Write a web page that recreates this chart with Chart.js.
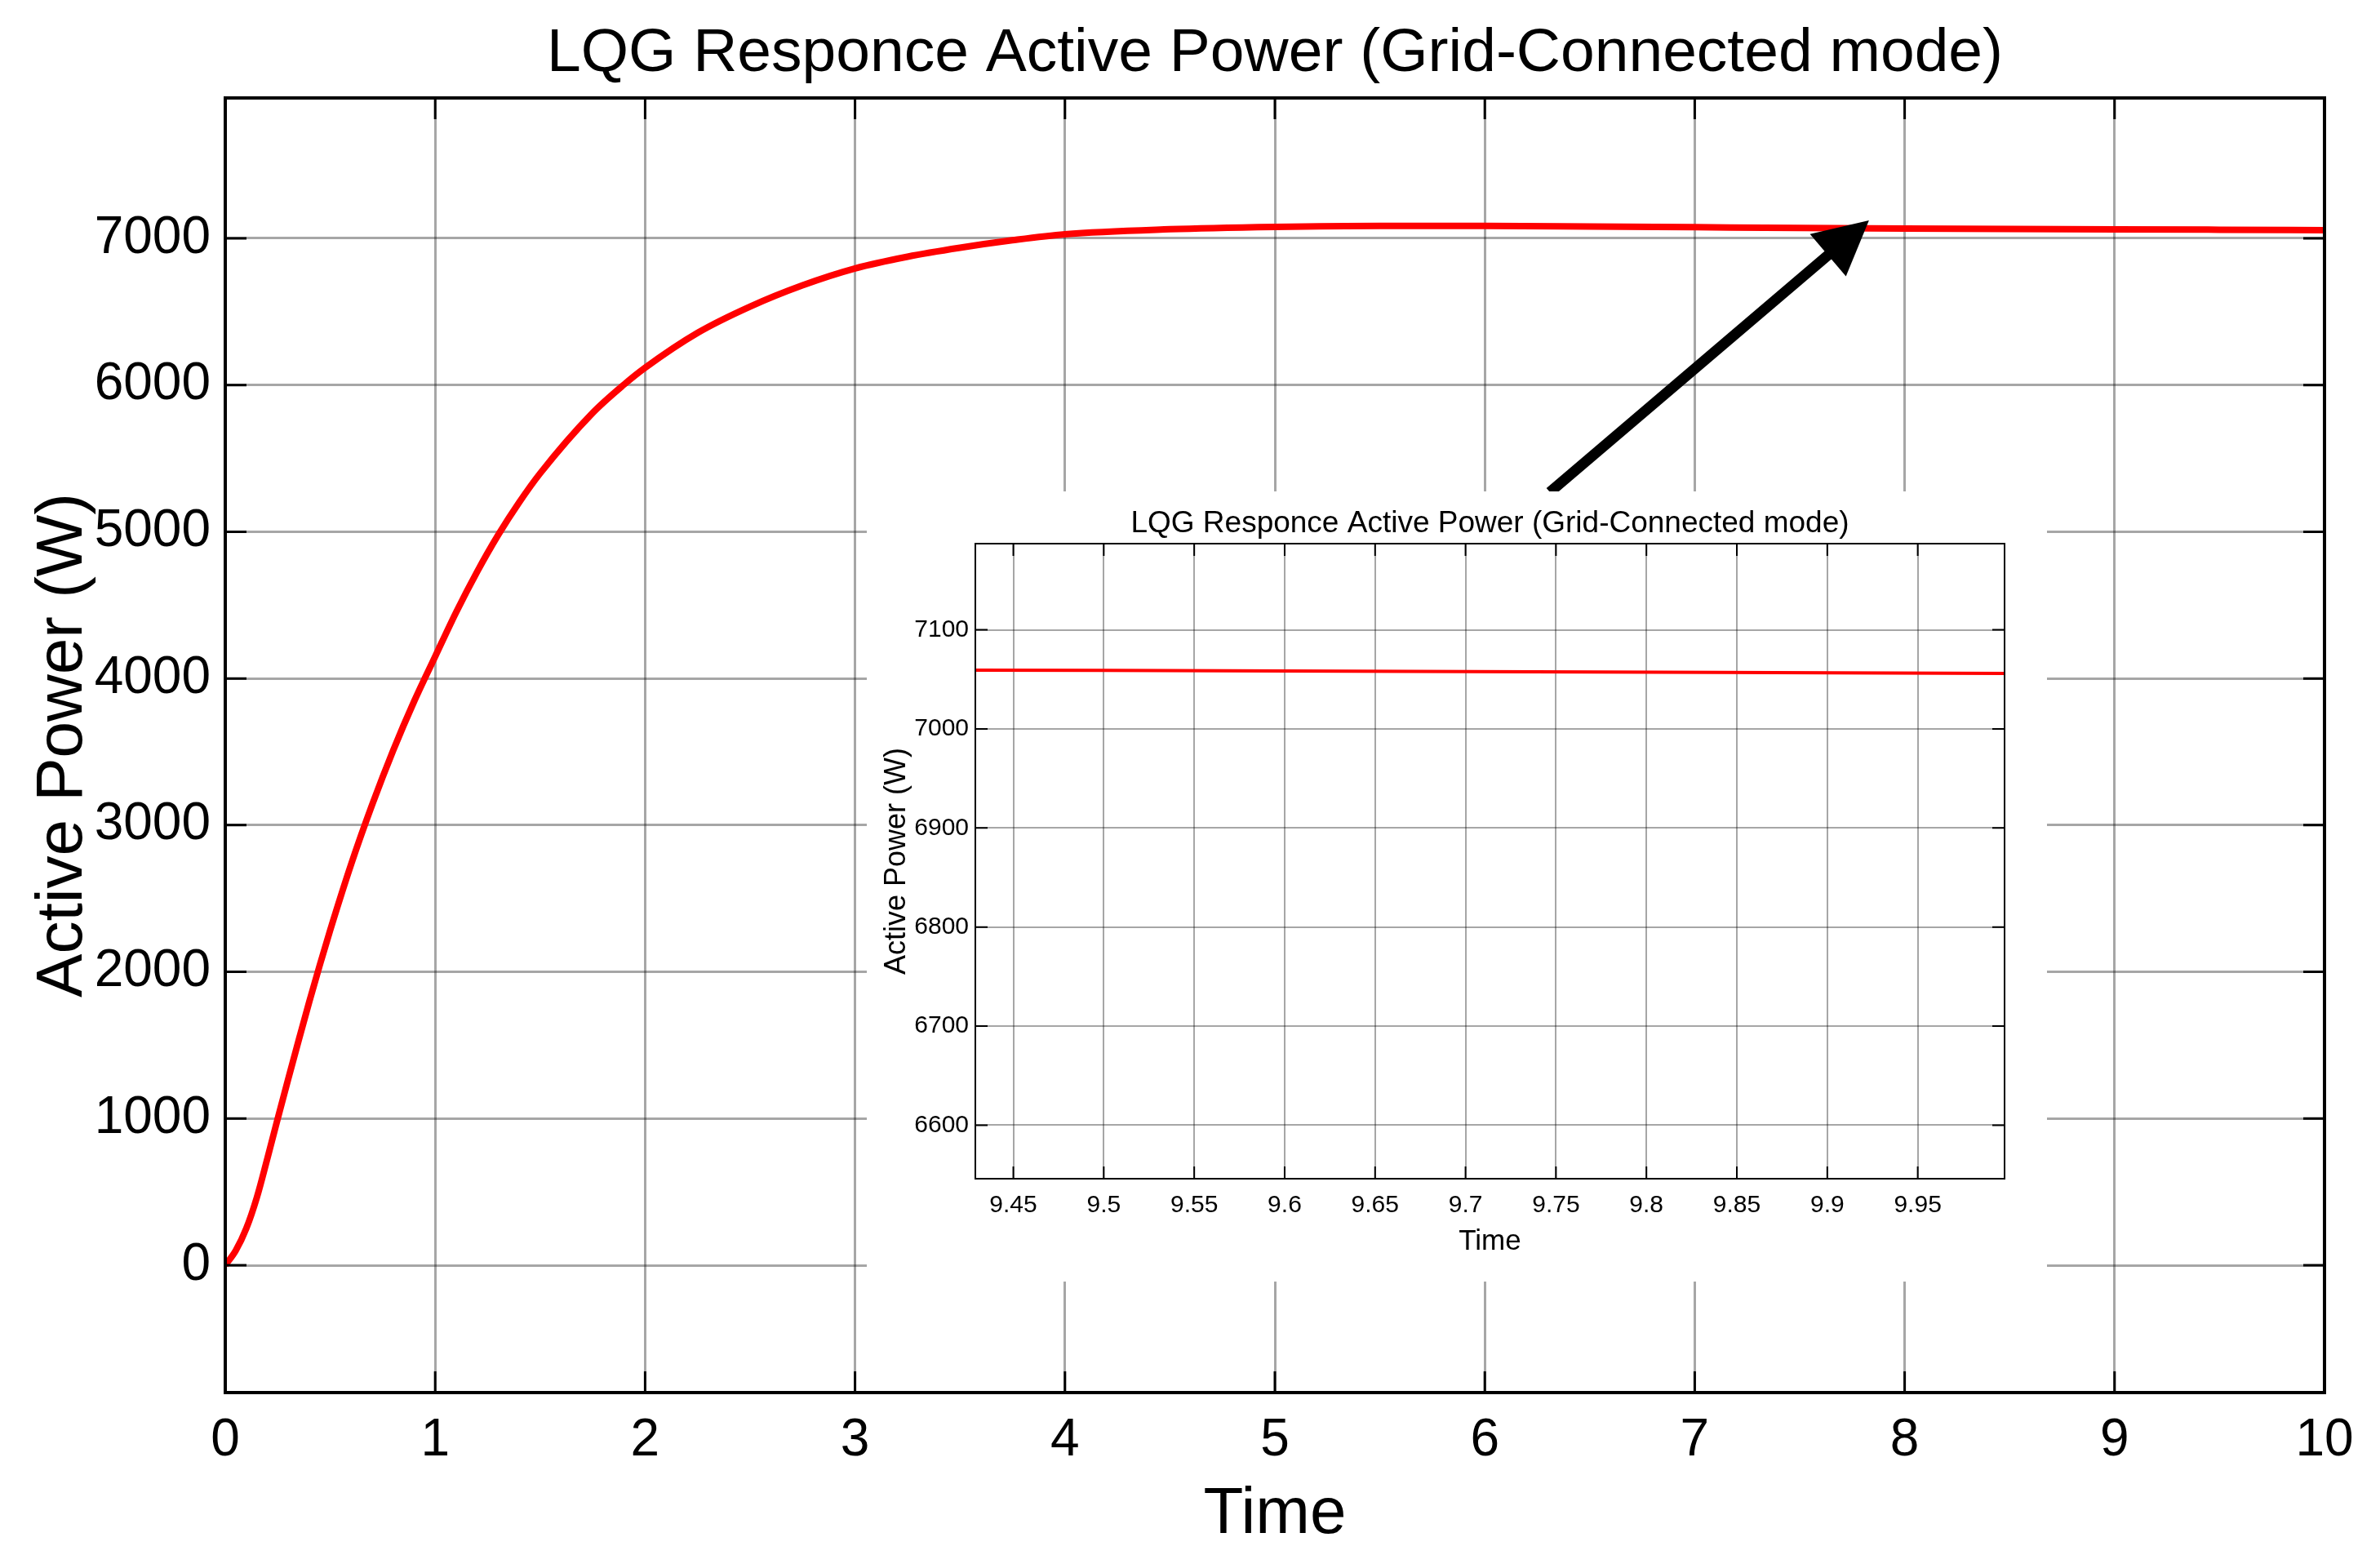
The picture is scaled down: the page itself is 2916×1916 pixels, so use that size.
<!DOCTYPE html>
<html>
<head>
<meta charset="utf-8">
<script src="https://cdn.jsdelivr.net/npm/chart.js@4.4.1/dist/chart.umd.min.js"></script>
<style>
html, body { margin: 0; padding: 0; background: #fff; }
#wrap { position: relative; width: 2916px; height: 1916px; }
#main { position: absolute; left: 0; top: 0; }
#inset { position: absolute; left: 1062px; top: 602px; background: #fff; }
</style>
</head>
<body>
<div id="wrap">
  <canvas id="main" width="2916" height="1916"></canvas>
  <canvas id="inset" width="1446" height="968"></canvas>
</div>
<script>
// values
const time  = [0, 0.05, 0.1, 0.15, 0.2, 0.25, 0.3, 0.35, 0.4, 0.45, 0.5, 0.6, 0.7, 0.8, 0.9, 1.0, 1.1, 1.2, 1.3, 1.4, 1.5, 1.75, 1.9, 2.0, 2.25, 2.5, 2.75, 3.0, 3.25, 3.5, 3.75, 4.0, 4.5, 5.0, 5.5, 6.0, 6.5, 7.0, 7.5, 8.0, 9.0, 9.5, 10.0];
const power = [0, 100, 250, 460, 725, 1000, 1270, 1535, 1795, 2045, 2285, 2735, 3140, 3510, 3845, 4150, 4452, 4728, 4978, 5200, 5398, 5810, 6004, 6118, 6356, 6535, 6680, 6795, 6875, 6936, 6987, 7028, 7062, 7078, 7085, 7085, 7081, 7076, 7071, 7067, 7061, 7059, 7056];

const xTicks = [0, 1, 2, 3, 4, 5, 6, 7, 8, 9, 10];
const yTicks = [0, 1000, 2000, 3000, 4000, 5000, 6000, 7000];
const insetXTicks = [9.45, 9.5, 9.55, 9.6, 9.65, 9.7, 9.75, 9.8, 9.85, 9.9, 9.95];
const insetYTicks = [6600, 6700, 6800, 6900, 7000, 7100];

const titleText = 'LQG Responce Active Power (Grid-Connected mode)';
const xLabel = 'Time';
const yLabel = 'Active Power (W)';

// arrow in data units (tail -> tip)
const arrowTail = { x: 6.31, y: 5270 };
const arrowTip  = { x: 7.83, y: 7123 };

const FONT = '"Liberation Sans", Arial, sans-serif';
Chart.defaults.font.family = FONT;
Chart.defaults.color = '#000';

const points = time.map((t, i) => ({ x: t, y: power[i] }));

// title centred over the plot box, not the canvas
const plotTitle = {
  id: 'plotTitle',
  afterDraw(chart, args, opts) {
    const { ctx, chartArea: a } = chart;
    ctx.save();
    ctx.font = opts.size + 'px ' + FONT;
    ctx.fillStyle = '#000';
    ctx.textAlign = 'center';
    ctx.textBaseline = 'middle';
    ctx.fillText(titleText, (a.left + a.right) / 2, opts.y);
    ctx.restore();
  }
};

// box round the plot + inward ticks like matlab
const frame = {
  id: 'frame',
  afterDatasetsDraw(chart, args, opts) {
    const { ctx, chartArea: a, scales: { x, y } } = chart;
    ctx.save();
    ctx.strokeStyle = '#000';
    ctx.lineWidth = opts.tickWidth;
    ctx.beginPath();
    x.ticks.forEach(t => {
      const px = x.getPixelForValue(t.value);
      ctx.moveTo(px, a.bottom); ctx.lineTo(px, a.bottom - opts.len);
      ctx.moveTo(px, a.top); ctx.lineTo(px, a.top + opts.len);
    });
    y.ticks.forEach(t => {
      const py = y.getPixelForValue(t.value);
      ctx.moveTo(a.left, py); ctx.lineTo(a.left + opts.len, py);
      ctx.moveTo(a.right, py); ctx.lineTo(a.right - opts.len, py);
    });
    ctx.stroke();
    ctx.lineWidth = opts.boxWidth;
    ctx.strokeRect(a.left, a.top, a.right - a.left, a.bottom - a.top);
    ctx.restore();
  }
};

const arrow = {
  id: 'arrow',
  afterDraw(chart) {
    const { ctx, scales: { x, y } } = chart;
    const x0 = x.getPixelForValue(arrowTail.x), y0 = y.getPixelForValue(arrowTail.y);
    const x1 = x.getPixelForValue(arrowTip.x), y1 = y.getPixelForValue(arrowTip.y);
    const ang = Math.atan2(y1 - y0, x1 - x0);
    const headLen = 66, headHalf = 34;
    const bx = x1 - headLen * Math.cos(ang), by = y1 - headLen * Math.sin(ang);
    ctx.save();
    ctx.strokeStyle = '#000';
    ctx.lineWidth = 13;
    ctx.beginPath();
    ctx.moveTo(x0, y0);
    ctx.lineTo(bx + 2 * Math.cos(ang), by + 2 * Math.sin(ang));
    ctx.stroke();
    ctx.fillStyle = '#000';
    ctx.beginPath();
    ctx.moveTo(x1, y1);
    ctx.lineTo(bx + headHalf * Math.sin(ang), by - headHalf * Math.cos(ang));
    ctx.lineTo(bx - headHalf * Math.sin(ang), by + headHalf * Math.cos(ang));
    ctx.closePath();
    ctx.fill();
    ctx.restore();
  }
};

function makeChart(id, cfg) {
  const ctx = document.getElementById(id).getContext('2d');
  return new Chart(ctx, {
    type: 'line',
    data: {
      datasets: [{
        data: points,
        borderColor: '#ff0000',
        borderWidth: cfg.lineWidth,
        pointRadius: 0,
        cubicInterpolationMode: 'monotone',
        fill: false
      }]
    },
    options: {
      responsive: false,
      animation: false,
      devicePixelRatio: 1,
      layout: { padding: { left: 0, top: cfg.padTop, right: cfg.padRight, bottom: 0 } },
      plugins: {
        legend: { display: false },
        tooltip: { enabled: false },
        title: { display: false },
        plotTitle: cfg.title,
        frame: cfg.frame
      },
      scales: {
        x: {
          type: 'linear',
          position: 'bottom',
          min: cfg.xMin,
          max: cfg.xMax,
          afterBuildTicks: s => { s.ticks = cfg.xTicks.map(v => ({ value: v })); },
          afterFit: s => { s.height = cfg.xHeight; },
          ticks: {
            font: { size: cfg.tickSize },
            color: '#000',
            padding: cfg.xTickPad,
            maxRotation: 0,
            autoSkip: false,
            callback: v => String(v)
          },
          grid: { color: 'rgba(0,0,0,0.35)', lineWidth: cfg.gridWidth, drawTicks: false },
          border: { display: false },
          title: {
            display: true,
            text: xLabel,
            color: '#000',
            font: { size: cfg.xLabelSize, lineHeight: 1 },
            padding: { top: 0, bottom: cfg.xLabelPad }
          }
        },
        y: {
          type: 'linear',
          min: cfg.yMin,
          max: cfg.yMax,
          afterBuildTicks: s => { s.ticks = cfg.yTicks.map(v => ({ value: v })); },
          afterFit: s => { s.width = cfg.yWidth; },
          ticks: {
            font: { size: cfg.tickSize },
            color: '#000',
            padding: cfg.yTickPad,
            autoSkip: false,
            callback: v => String(v)
          },
          grid: { color: 'rgba(0,0,0,0.35)', lineWidth: cfg.gridWidth, drawTicks: false },
          border: { display: false },
          title: {
            display: true,
            text: yLabel,
            color: '#000',
            font: { size: cfg.yLabelSize, lineHeight: 1 },
            padding: { top: cfg.yLabelPad, bottom: 0 }
          }
        }
      }
    },
    plugins: cfg.extra
  });
}

makeChart('main', {
  lineWidth: 8,
  padTop: 120,
  padRight: 68,
  title: { size: 75, y: 66 },
  frame: { len: 26, tickWidth: 3, boxWidth: 4 },
  xMin: 0, xMax: 10, xTicks: xTicks,
  yMin: -868, yMax: 7957, yTicks: yTicks,
  xHeight: 210, yWidth: 276,
  tickSize: 64, xTickPad: 21, yTickPad: 18,
  gridWidth: 3,
  xLabelSize: 80, xLabelPad: 20,
  yLabelSize: 80, yLabelPad: 38,
  extra: [plotTitle, frame, arrow]
});

makeChart('inset', {
  lineWidth: 4,
  padTop: 64,
  padRight: 52,
  title: { size: 37, y: 40 },
  frame: { len: 15, tickWidth: 2, boxWidth: 2 },
  xMin: 9.429, xMax: 9.998, xTicks: insetXTicks,
  yMin: 6546, yMax: 7187, yTicks: insetYTicks,
  xHeight: 126, yWidth: 133,
  tickSize: 30, xTickPad: 15, yTickPad: 8,
  gridWidth: 2,
  xLabelSize: 35, xLabelPad: 31,
  yLabelSize: 36, yLabelPad: 19,
  extra: [plotTitle, frame]
});
</script>
</body>
</html>
